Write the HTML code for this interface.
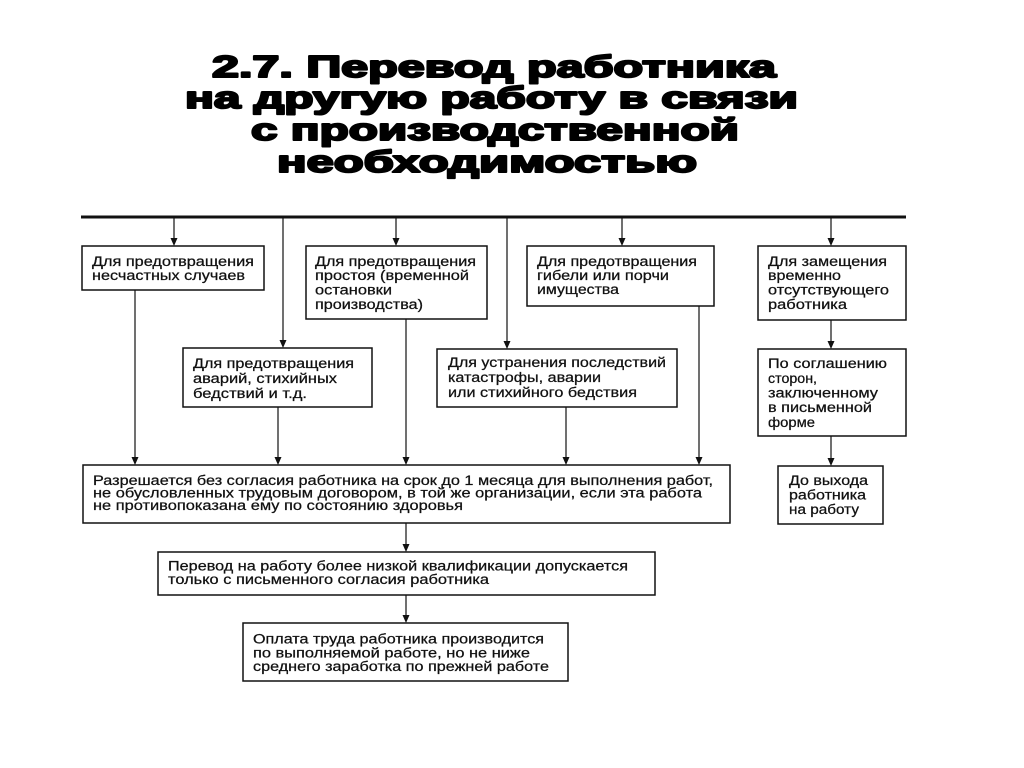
<!DOCTYPE html>
<html>
<head>
<meta charset="utf-8">
<style>
html,body{margin:0;padding:0;background:#fff;}
svg{display:block;}
.t{font-family:"Liberation Sans",Arial,sans-serif;font-size:13.5px;fill:#111;stroke:#111;stroke-width:0.25;}
.h{font-family:"Liberation Sans",Arial,sans-serif;font-size:31px;font-weight:bold;fill:#000;stroke:#000;stroke-width:2;stroke-linejoin:round;}
.b{fill:#fff;stroke:#111;stroke-width:1.5;}
.l{stroke:#111;stroke-width:1.2;fill:none;}
.a{fill:#111;}
</style>
</head>
<body>
<svg width="1024" height="768" viewBox="0 0 1024 768" xmlns="http://www.w3.org/2000/svg">
<!-- Title -->
<text class="h" x="212" y="77" textLength="564" lengthAdjust="spacingAndGlyphs">2.7. Перевод работника</text>
<text class="h" x="185" y="108" textLength="613" lengthAdjust="spacingAndGlyphs">на другую работу в связи</text>
<text class="h" x="251" y="140" textLength="488" lengthAdjust="spacingAndGlyphs">с производственной</text>
<text class="h" x="277" y="172" textLength="420" lengthAdjust="spacingAndGlyphs">необходимостью</text>

<!-- top bar -->
<line x1="81" y1="217" x2="906" y2="217" stroke="#111" stroke-width="3"/>

<!-- connectors from bar -->
<line class="l" x1="174" y1="217" x2="174" y2="240"/>
<polygon class="a" points="170.5,238 177.5,238 174,246"/>
<line class="l" x1="283" y1="217" x2="283" y2="342"/>
<polygon class="a" points="279.5,340 286.5,340 283,348"/>
<line class="l" x1="396" y1="217" x2="396" y2="240"/>
<polygon class="a" points="392.5,238 399.5,238 396,246"/>
<line class="l" x1="507" y1="217" x2="507" y2="343"/>
<polygon class="a" points="503.5,341 510.5,341 507,349"/>
<line class="l" x1="622" y1="217" x2="622" y2="240"/>
<polygon class="a" points="618.5,238 625.5,238 622,246"/>
<line class="l" x1="831" y1="217" x2="831" y2="240"/>
<polygon class="a" points="827.5,238 834.5,238 831,246"/>

<!-- connectors down to big box -->
<line class="l" x1="135" y1="290" x2="135" y2="459"/>
<polygon class="a" points="131.5,457 138.5,457 135,465"/>
<line class="l" x1="278" y1="407" x2="278" y2="459"/>
<polygon class="a" points="274.5,457 281.5,457 278,465"/>
<line class="l" x1="406" y1="319" x2="406" y2="459"/>
<polygon class="a" points="402.5,457 409.5,457 406,465"/>
<line class="l" x1="566" y1="407" x2="566" y2="459"/>
<polygon class="a" points="562.5,457 569.5,457 566,465"/>
<line class="l" x1="699" y1="306" x2="699" y2="459"/>
<polygon class="a" points="695.5,457 702.5,457 699,465"/>

<!-- right column connectors -->
<line class="l" x1="831" y1="320" x2="831" y2="343"/>
<polygon class="a" points="827.5,341 834.5,341 831,349"/>
<line class="l" x1="831" y1="436" x2="831" y2="460"/>
<polygon class="a" points="827.5,458 834.5,458 831,466"/>

<!-- bottom chain -->
<line class="l" x1="406" y1="523" x2="406" y2="546"/>
<polygon class="a" points="402.5,544 409.5,544 406,552"/>
<line class="l" x1="406" y1="595" x2="406" y2="617"/>
<polygon class="a" points="402.5,615 409.5,615 406,623"/>

<!-- Boxes -->
<rect class="b" x="82" y="246" width="182" height="44"/>
<text class="t" x="92" y="266" textLength="162" lengthAdjust="spacingAndGlyphs">Для предотвращения</text>
<text class="t" x="92" y="280" textLength="153" lengthAdjust="spacingAndGlyphs">несчастных случаев</text>

<rect class="b" x="306" y="246" width="181" height="73"/>
<text class="t" x="315" y="266" textLength="161" lengthAdjust="spacingAndGlyphs">Для предотвращения</text>
<text class="t" x="315" y="280" textLength="154" lengthAdjust="spacingAndGlyphs">простоя (временной</text>
<text class="t" x="315" y="294.5" textLength="77" lengthAdjust="spacingAndGlyphs">остановки</text>
<text class="t" x="315" y="309" textLength="108" lengthAdjust="spacingAndGlyphs">производства)</text>

<rect class="b" x="527" y="246" width="187" height="60"/>
<text class="t" x="537" y="266" textLength="160" lengthAdjust="spacingAndGlyphs">Для предотвращения</text>
<text class="t" x="537" y="280" textLength="132" lengthAdjust="spacingAndGlyphs">гибели или порчи</text>
<text class="t" x="537" y="294" textLength="82" lengthAdjust="spacingAndGlyphs">имущества</text>

<rect class="b" x="758" y="246" width="148" height="74"/>
<text class="t" x="768" y="266" textLength="119" lengthAdjust="spacingAndGlyphs">Для замещения</text>
<text class="t" x="768" y="280" textLength="73" lengthAdjust="spacingAndGlyphs">временно</text>
<text class="t" x="768" y="294.5" textLength="121" lengthAdjust="spacingAndGlyphs">отсутствующего</text>
<text class="t" x="768" y="309" textLength="79" lengthAdjust="spacingAndGlyphs">работника</text>

<rect class="b" x="183" y="348" width="189" height="59"/>
<text class="t" x="193" y="368" textLength="161" lengthAdjust="spacingAndGlyphs">Для предотвращения</text>
<text class="t" x="193" y="383" textLength="144" lengthAdjust="spacingAndGlyphs">аварий, стихийных</text>
<text class="t" x="193" y="398" textLength="114" lengthAdjust="spacingAndGlyphs">бедствий и т.д.</text>

<rect class="b" x="437" y="349" width="240" height="58"/>
<text class="t" x="448" y="367" textLength="218" lengthAdjust="spacingAndGlyphs">Для устранения последствий</text>
<text class="t" x="448" y="382" textLength="153" lengthAdjust="spacingAndGlyphs">катастрофы, аварии</text>
<text class="t" x="448" y="397" textLength="189" lengthAdjust="spacingAndGlyphs">или стихийного бедствия</text>

<rect class="b" x="758" y="349" width="148" height="87"/>
<text class="t" x="768" y="368" textLength="119" lengthAdjust="spacingAndGlyphs">По соглашению</text>
<text class="t" x="768" y="383" textLength="49" lengthAdjust="spacingAndGlyphs">сторон,</text>
<text class="t" x="768" y="397.5" textLength="110" lengthAdjust="spacingAndGlyphs">заключенному</text>
<text class="t" x="768" y="412" textLength="104" lengthAdjust="spacingAndGlyphs">в письменной</text>
<text class="t" x="768" y="427" textLength="47" lengthAdjust="spacingAndGlyphs">форме</text>

<rect class="b" x="778" y="466" width="105" height="58"/>
<text class="t" x="789" y="485" textLength="79" lengthAdjust="spacingAndGlyphs">До выхода</text>
<text class="t" x="789" y="499.5" textLength="77" lengthAdjust="spacingAndGlyphs">работника</text>
<text class="t" x="789" y="514" textLength="70" lengthAdjust="spacingAndGlyphs">на работу</text>

<rect class="b" x="83" y="465" width="647" height="58"/>
<text class="t" x="93" y="485" textLength="620" lengthAdjust="spacingAndGlyphs">Разрешается без согласия работника на срок до 1 месяца для выполнения работ,</text>
<text class="t" x="93" y="497.5" textLength="609" lengthAdjust="spacingAndGlyphs">не обусловленных трудовым договором, в той же организации, если эта работа</text>
<text class="t" x="93" y="510" textLength="370" lengthAdjust="spacingAndGlyphs">не противопоказана ему по состоянию здоровья</text>

<rect class="b" x="158" y="552" width="497" height="43"/>
<text class="t" x="168" y="570.5" textLength="460" lengthAdjust="spacingAndGlyphs">Перевод на работу более низкой квалификации допускается</text>
<text class="t" x="168" y="584" textLength="321" lengthAdjust="spacingAndGlyphs">только с письменного согласия работника</text>

<rect class="b" x="243" y="623" width="325" height="58"/>
<text class="t" x="253" y="643.5" textLength="291" lengthAdjust="spacingAndGlyphs">Оплата труда работника производится</text>
<text class="t" x="253" y="657.5" textLength="277" lengthAdjust="spacingAndGlyphs">по выполняемой работе, но не ниже</text>
<text class="t" x="253" y="671" textLength="296" lengthAdjust="spacingAndGlyphs">среднего заработка по прежней работе</text>
</svg>
</body>
</html>
